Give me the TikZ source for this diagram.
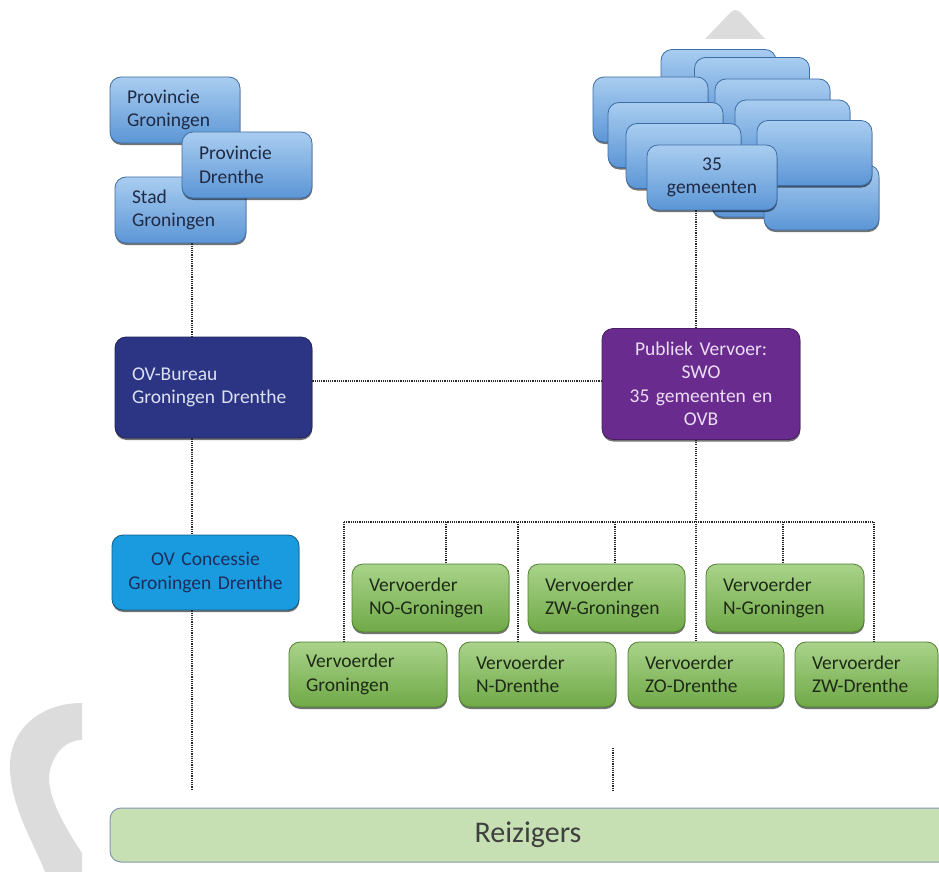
\documentclass[tikz,border=0pt]{standalone}
\usepackage{fontspec}
\setmainfont{Carlito}
\usetikzlibrary{shadows}
\definecolor{wm}{HTML}{DCDCDC}
\definecolor{bltop}{HTML}{A9CDF0}
\definecolor{blbot}{HTML}{5C96D6}
\definecolor{blline}{HTML}{3E6EA6}
\definecolor{bltext}{HTML}{1F2A44}
\definecolor{grtop}{HTML}{A9D38A}
\definecolor{grbot}{HTML}{70A948}
\definecolor{grline}{HTML}{4F8030}
\definecolor{grtext}{HTML}{1E2A16}
\definecolor{navy}{HTML}{2C3584}
\definecolor{navytext}{HTML}{DDE1F2}
\definecolor{purp}{HTML}{6A2B8F}
\definecolor{purptext}{HTML}{EBDDF4}
\definecolor{sky}{HTML}{1A9BE0}
\definecolor{skytext}{HTML}{1C2D5C}
\definecolor{reifill}{HTML}{C6E0B4}
\definecolor{reiline}{HTML}{8497B0}
\definecolor{reitext}{HTML}{404040}
\definecolor{dotc}{HTML}{2A2A2A}
\begin{document}
\begin{tikzpicture}[x=1pt,y=-1pt,
  base/.style={rounded corners=11pt, font=\fontsize{19.5}{23.5}\selectfont,
    inner xsep=17pt, inner ysep=0pt, line width=0.8pt,
    drop shadow={shadow xshift=0.3pt, shadow yshift=-2pt, opacity=0.55, fill=black}},
  bluebox/.style={base, top color=bltop, bottom color=blbot, draw=blline, text=bltext},
  stackbox/.style={bluebox, minimum width=115pt, minimum height=65pt},
  greenbox/.style={base, top color=grtop, bottom color=grbot, draw=grline, text=grtext, align=left},
  dotline/.style={draw=dotc, line width=1.6pt, dash pattern=on 1.1pt off 1.1pt}]
\clip (0,0) rectangle (939,872);
\fill[white] (0,0) rectangle (939,872);
% watermark shapes
\fill[wm] (82,703) .. controls (40,703) and (8,730) .. (10,770)
  .. controls (12,810) and (35,845) .. (45,872) -- (82,872) -- (82,853)
  .. controls (60,820) and (45,790) .. (50,770)
  .. controls (55,750) and (68,740) .. (82,740) -- cycle;
\fill[wm] (705,39) -- (730,13) .. controls (734,9) and (737,9) .. (741,13) -- (765,39) -- cycle;

% left group
\node[bluebox, minimum width=130pt, minimum height=66pt, text width=96pt, align=left] (pg) at (175,110) {Provincie\\Groningen};
\node[bluebox, minimum width=131pt, minimum height=66pt, text width=97pt, align=left] (sg) at (180.5,210) {Stad\\Groningen};
\node[bluebox, minimum width=130pt, minimum height=66pt, text width=96pt, align=left] (pd) at (247,165) {Provincie\\Drenthe};

% stack of 35 gemeenten
\node[stackbox] (s1) at (718.5,82) {};
\node[stackbox] (s2) at (752,90) {};
\node[stackbox] (s3) at (650.5,109.5) {};
\node[stackbox] (s4) at (772.5,111.5) {};
\node[stackbox] (s5) at (665.5,135) {};
\node[stackbox] (s6) at (792.5,132.5) {};
\node[stackbox] (s7) at (769.5,184.5) {};
\node[stackbox] (s8) at (821.5,197.5) {};
\node[stackbox] (s9) at (683.5,156) {};
\node[stackbox] (s10) at (814.5,153) {};
\node[bluebox, minimum width=130pt, minimum height=65pt, text width=96pt, align=center] (gem) at (712,177.5) {35\\gemeenten};

% middle row
\node[base, fill=navy, draw=navy!70!black, text=navytext, minimum width=197pt, minimum height=101pt, text width=163pt, align=left] (ovb) at (213.5,387.5) {OV-Bureau\\Groningen Drenthe};
\node[base, fill=purp, draw=purp!70!black, text=purptext, minimum width=198pt, minimum height=111pt, text width=164pt, align=center] (pv) at (701,384) {Publiek Vervoer:\\SWO\\35 gemeenten en\\OVB};
\node[base, fill=sky, draw=sky!60!black, text=skytext, inner xsep=5pt, minimum width=187pt, minimum height=75pt, text width=177pt, align=center] (ovc) at (205.5,572.5) {OV Concessie\\Groningen Drenthe};

% vervoerders
\node[greenbox, minimum width=157pt, minimum height=68pt, text width=123pt] (nog) at (430.5,598) {Vervoerder\\NO-Groningen};
\node[greenbox, minimum width=157pt, minimum height=68pt, text width=123pt] (zwg) at (606.5,598) {Vervoerder\\ZW-Groningen};
\node[greenbox, minimum width=158pt, minimum height=68pt, text width=124pt] (ng) at (785,598) {Vervoerder\\N-Groningen};
\node[greenbox, minimum width=158pt, minimum height=65pt, text width=124pt] (gr) at (368,674.5) {Vervoerder\\Groningen};
\node[greenbox, minimum width=157pt, minimum height=65pt, text width=123pt] (nd) at (537.5,674.5) {Vervoerder\\N-Drenthe};
\node[greenbox, minimum width=156pt, minimum height=65pt, text width=122pt] (zod) at (706,674.5) {Vervoerder\\ZO-Drenthe};
\node[greenbox, minimum width=143pt, minimum height=65pt, text width=109pt] (zwd) at (866.5,674.5) {Vervoerder\\ZW-Drenthe};

% reizigers
\node[rounded corners=11pt, fill=reifill, draw=reiline, line width=1pt, minimum width=840pt, minimum height=54pt, inner sep=0pt] (rei) at (530,835) {};
\node[font=\fontsize{30}{36}\selectfont, text=reitext, inner sep=0pt] (reit) at (528,835) {Reizigers};

% connectors
\coordinate (lx) at (192,0);
\coordinate (cx) at (696,0);
\coordinate (hy) at (0,381);
\coordinate (lend) at (192,790);
\coordinate (m1) at (613,748);
\coordinate (m2) at (613,790);
\coordinate (t1) at (344,522);
\coordinate (t2) at (446,522);
\coordinate (t3) at (518,522);
\coordinate (t4) at (615,522);
\coordinate (t6) at (783,522);
\coordinate (t7) at (874,522);
\draw[dotline] (sg.south -| lx) -- (ovb.north -| lx);
\draw[dotline] (ovb.south -| lx) -- (ovc.north -| lx);
\draw[dotline] (ovc.south -| lx) -- (lend);
\draw[dotline] (ovb.east |- hy) -- (pv.west |- hy);
\draw[dotline] (gem.south -| cx) -- (pv.north -| cx);
\draw[dotline] (pv.south -| cx) -- (zod.north -| cx);
\draw[dotline] (t1) -- (t7);
\draw[dotline] (t1) -- (t1 |- gr.north);
\draw[dotline] (t2) -- (t2 |- nog.north);
\draw[dotline] (t3) -- (t3 |- nd.north);
\draw[dotline] (t4) -- (t4 |- zwg.north);
\draw[dotline] (t6) -- (t6 |- ng.north);
\draw[dotline] (t7) -- (t7 |- zwd.north);
\draw[dotline] (m1) -- (m2);
\end{tikzpicture}
\end{document}
